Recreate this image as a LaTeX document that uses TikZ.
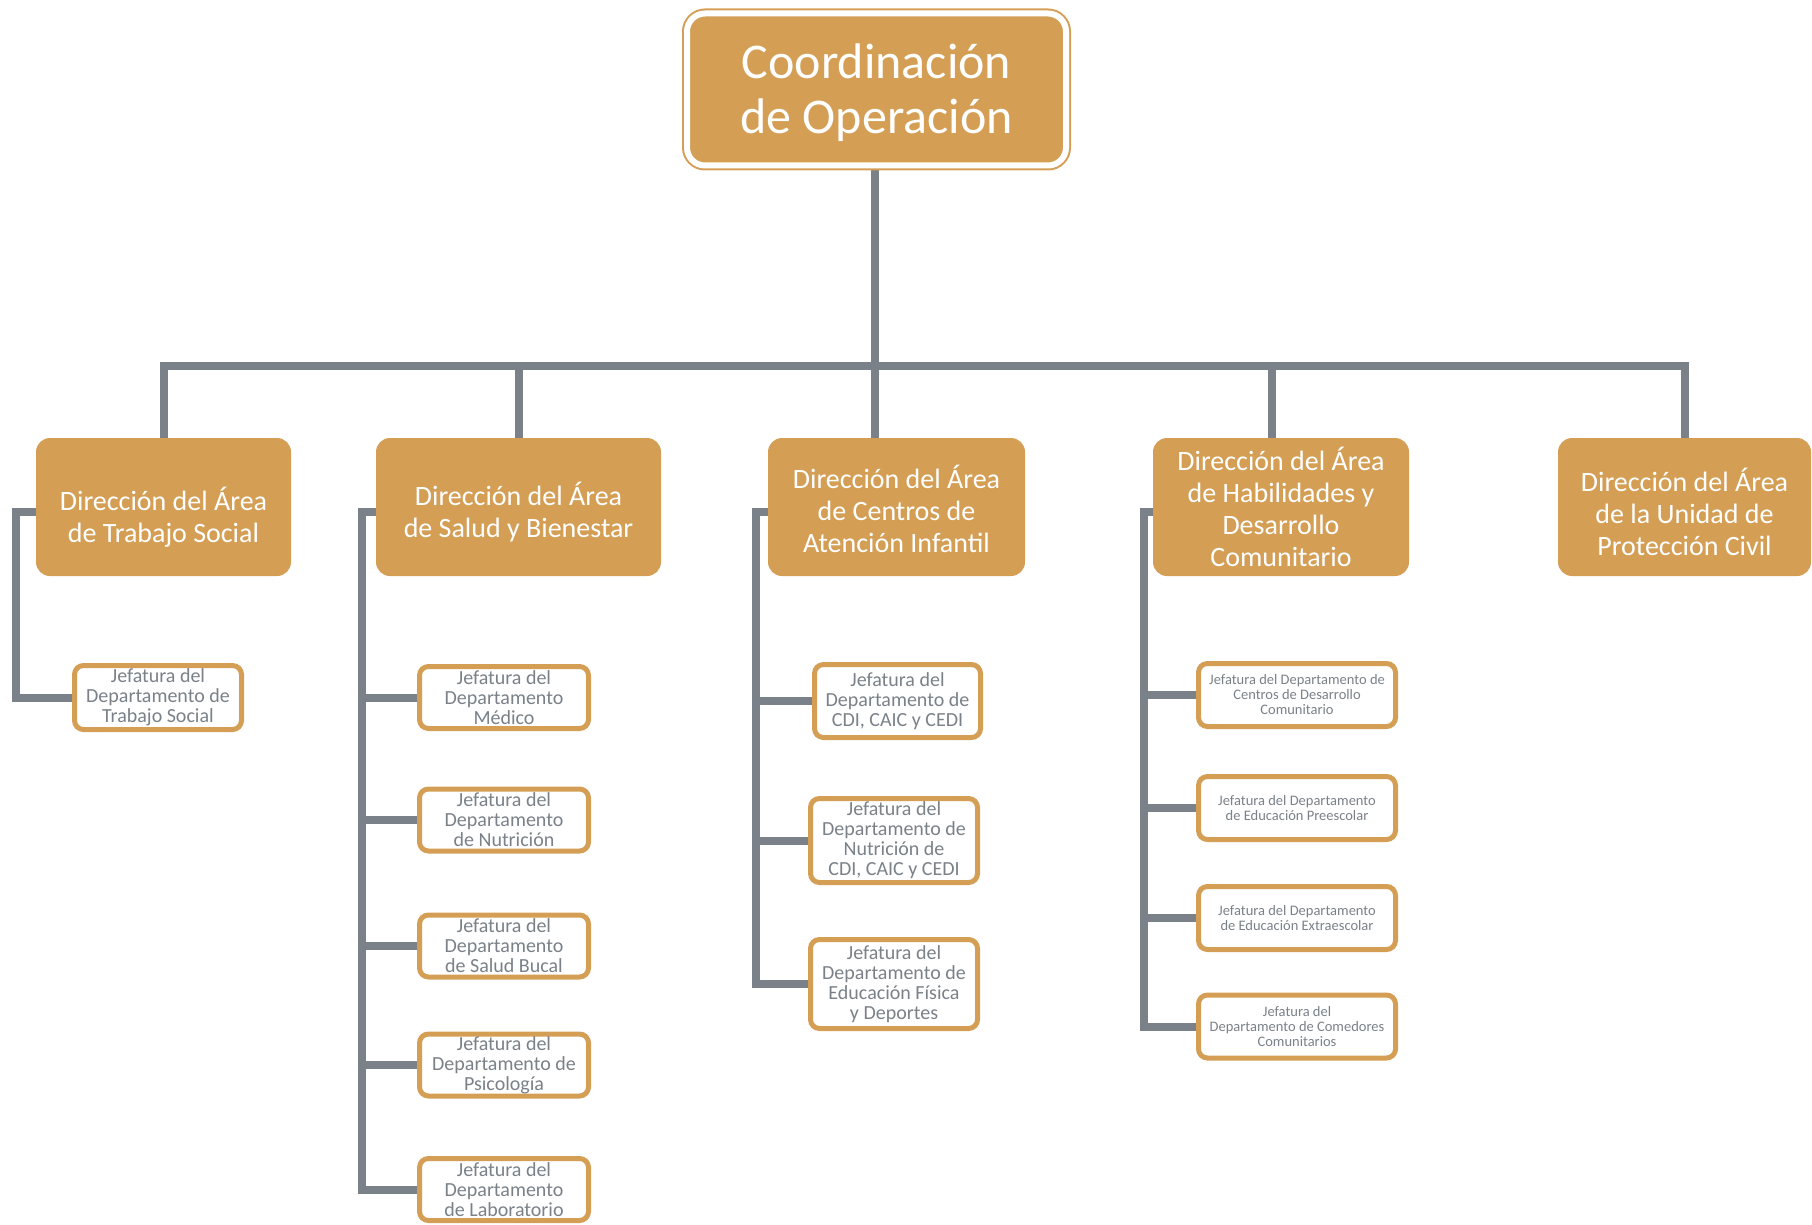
\documentclass[tikz,border=0pt]{standalone}
\usepackage{fontspec}
\setmainfont{Carlito}
\usetikzlibrary{backgrounds}
\definecolor{oro}{RGB}{212,159,85}
\definecolor{gris}{RGB}{122,129,137}
\newcommand{\bajar}[2]{\raisebox{0pt}[\dimexpr\height+#1\relax]{#2}}
\begin{document}
\begin{tikzpicture}[x=1pt,y=-1pt,
    linea/.style={draw=gris, line width=8pt},
    direccion/.style={fill=oro, rounded corners=14pt, text=white, align=center, inner sep=0pt,
        minimum height=138pt, font=\fontsize{28}{32}\selectfont},
    jefatura/.style={draw=oro, line width=5pt, fill=white, rounded corners=9pt, text=gris,
        align=center, inner sep=0pt, font=\fontsize{20}{20}\selectfont},
    jefchica/.style={jefatura, font=\fontsize{14.5}{15}\selectfont}]
    \useasboundingbox (0,0) rectangle (1812,1225);

    \node[fill=oro, draw=oro, line width=2pt, double=white, double distance=6pt, rounded corners=18pt,
        minimum width=379pt, minimum height=152pt, text=white, align=center,
        font=\fontsize{50}{55}\selectfont] (coord) at (876.5,89.5) {\bajar{6pt}{Coordinación}\\de Operación};

    % direcciones
    \node[direccion, minimum width=255pt] (dts) at (163.5,507) {\bajar{20pt}{Dirección del Área}\\de Trabajo Social};
    \node[direccion, minimum width=285pt] (dsb) at (518.5,507) {\bajar{10pt}{Dirección del Área}\\de Salud y Bienestar};
    \node[direccion, minimum width=257pt] (dca) at (896.5,507) {\bajar{4pt}{Dirección del Área}\\de Centros de\\Atención Infantil};
    \node[direccion, minimum width=256pt] (dha) at (1281,507) {Dirección del Área\\de Habilidades y\\Desarrollo\\Comunitario};
    \node[direccion, minimum width=253pt] (dpc) at (1684.5,507) {\bajar{10pt}{Dirección del Área}\\de la Unidad de\\Protección Civil};

    % jefaturas
    \node[jefatura, minimum width=167pt, minimum height=64pt] (jts) at (158,697.5) {Jefatura del\\Departamento de\\Trabajo Social};

    \node[jefatura, minimum width=169pt, minimum height=62pt] (jmed) at (504,697.5) {Jefatura del\\Departamento\\Médico};
    \node[jefatura, minimum width=169pt, minimum height=62pt] (jnut) at (504,820) {Jefatura del\\Departamento\\de Nutrición};
    \node[jefatura, minimum width=169pt, minimum height=62pt] (jbuc) at (504,946) {Jefatura del\\Departamento\\de Salud Bucal};
    \node[jefatura, minimum width=169pt, minimum height=62pt] (jpsi) at (504,1065) {Jefatura del\\Departamento de\\Psicología};
    \node[jefatura, minimum width=169pt, minimum height=62pt] (jlab) at (504,1189.5) {Jefatura del\\Departamento\\de Laboratorio};

    \node[jefatura, minimum width=166pt, minimum height=73pt] (jcdi) at (897.5,701) {Jefatura del\\Departamento de\\CDI, CAIC y CEDI};
    \node[jefatura, minimum width=167pt, minimum height=84pt] (jncd) at (894,840.5) {Jefatura del\\Departamento de\\Nutrición de\\CDI, CAIC y CEDI};
    \node[jefatura, minimum width=167pt, minimum height=89pt] (jefd) at (894,984) {Jefatura del\\Departamento de\\Educación Física\\y Deportes};

    \node[jefchica, minimum width=197pt, minimum height=63pt] (jcdc) at (1297,695) {Jefatura del Departamento de\\Centros de Desarrollo\\Comunitario};
    \node[jefchica, minimum width=197pt, minimum height=63pt] (jpre) at (1297,808) {Jefatura del Departamento\\de Educación Preescolar};
    \node[jefchica, minimum width=197pt, minimum height=63pt] (jext) at (1297,918) {Jefatura del Departamento\\de Educación Extraescolar};
    \node[jefchica, minimum width=197pt, minimum height=63pt] (jcom) at (1297,1026.5) {Jefatura del\\Departamento de Comedores\\Comunitarios};

    % lineas
    \begin{scope}[on background layer]
        \coordinate (bus) at (0,366);
        \draw[linea] ([xshift=-1.5pt]coord.south) -- ([xshift=-1.5pt]coord.south |- dca.north);
        \draw[linea] (dts.north) |- (dpc.north |- bus) -- (dpc.north);
        \draw[linea] (dsb.north) -- (dsb.north |- bus);
        \draw[linea] ([xshift=-9pt]dha.north) -- ([xshift=-9pt]dha.north |- bus);

        \draw[linea] ([yshift=-5pt]dts.west) -- ++(-20,0) |- (jts.west);
        \draw[linea] ([yshift=-5pt]dsb.west) -- ++(-14,0) coordinate (e2) |- (jlab.west);
        \foreach \j in {jmed,jnut,jbuc,jpsi}
            \draw[linea] (\j.west) -- (\j.west -| e2);
        \draw[linea] ([yshift=-5pt]dca.west) -- ++(-12,0) coordinate (e3) |- (jefd.west);
        \foreach \j in {jcdi,jncd}
            \draw[linea] (\j.west) -- (\j.west -| e3);
        \draw[linea] ([yshift=-5pt]dha.west) -- ++(-9,0) coordinate (e4) |- (jcom.west);
        \foreach \j in {jcdc,jpre,jext}
            \draw[linea] (\j.west) -- (\j.west -| e4);
    \end{scope}
\end{tikzpicture}
\end{document}
